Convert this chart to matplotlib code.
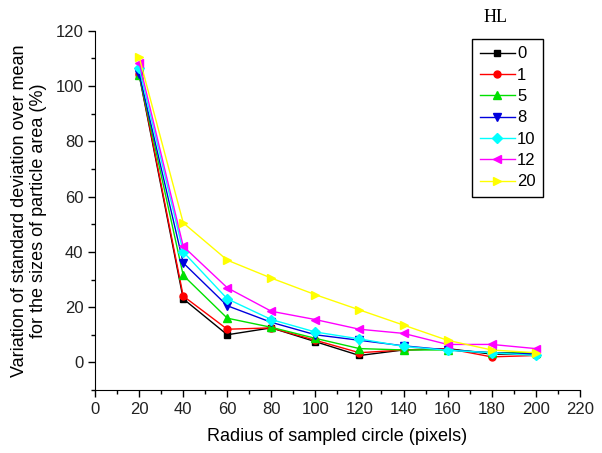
import numpy as np
import matplotlib
matplotlib.use('Agg')
import matplotlib.pyplot as plt
from matplotlib.ticker import MultipleLocator

plt.rcParams['font.family'] = ['Liberation Sans', 'DejaVu Sans']

# radius of sampled circle (pixels)
radius = [20, 40, 60, 80, 100, 120, 140, 160, 180, 200]

# variation (%) for each HL value
hl_labels = ['0', '1', '5', '8', '10', '12', '20']
hl_0 = [104, 23, 10, 12.5, 7.5, 2.5, 4.5, 5, 3, 3]
hl_1 = [104.5, 24, 12, 12.5, 8, 3.5, 4.5, 5, 2, 2.5]
hl_5 = [104, 31.5, 16, 12.7, 8.7, 5, 4.5, 4.5, 3.5, 3.5]
hl_8 = [104.5, 36, 20.5, 14.5, 10, 8, 6, 4.5, 3.5, 3]
hl_10 = [106.5, 40, 23, 15.5, 11, 8.5, 5.8, 4.4, 3.5, 2.5]
hl_12 = [108.5, 42, 27, 18.5, 15.5, 12, 10.5, 6.5, 6.5, 5]
hl_20 = [110.5, 50.5, 37, 30.5, 24.5, 19, 13.5, 8, 4.5, 3.5]

series = [hl_0, hl_1, hl_5, hl_8, hl_10, hl_12, hl_20]
colors = ['#000000', '#ff0000', '#00e000', '#0000dd', '#00ffff', '#ff00ff', '#ffff00']
markers = ['s', 'o', '^', 'v', 'D', '<', '>']
msizes = [5, 5, 6, 6, 5, 6, 6]

fig = plt.figure(figsize=(6.02, 4.53), dpi=100)
ax = fig.add_axes([0.158, 0.139, 0.805, 0.793])

for vals, lab, c, m, ms in zip(series, hl_labels, colors, markers, msizes):
    ax.plot(radius, vals, color=c, marker=m, markersize=ms, linewidth=1.0,
            markeredgecolor=c, label=lab)

ax.set_xlim(0, 220)
ax.set_ylim(-10, 120)
ax.xaxis.set_major_locator(MultipleLocator(20))
ax.xaxis.set_minor_locator(MultipleLocator(10))
ax.yaxis.set_major_locator(MultipleLocator(20))
ax.yaxis.set_minor_locator(MultipleLocator(10))
ax.tick_params(which='major', direction='out', length=5, width=1, labelsize=12, labelcolor='#222222')
ax.tick_params(which='minor', direction='out', length=3, width=1)

ax.spines['top'].set_visible(False)
ax.spines['right'].set_visible(False)

ax.set_xlabel('Radius of sampled circle (pixels)', fontsize=13, labelpad=8)
ax.set_ylabel('Variation of standard deviation over mean\nfor the sizes of particle area (%)',
              fontsize=13, labelpad=6)

leg = ax.legend(loc='upper left', bbox_to_anchor=(472 / 602, 1 - 39 / 453),
                bbox_transform=fig.transFigure, borderaxespad=0, fontsize=12,
                handlelength=2.1, handletextpad=0.15, labelspacing=0.38,
                fancybox=False, edgecolor='black', framealpha=1, borderpad=0.45)
leg.get_frame().set_linewidth(1.0)

fig.text(496 / 602, 1 - 18 / 453, 'HL', family=['Liberation Serif', 'DejaVu Serif'],
         fontsize=13, ha='center', va='center')

fig.savefig('out.png', dpi=100)
